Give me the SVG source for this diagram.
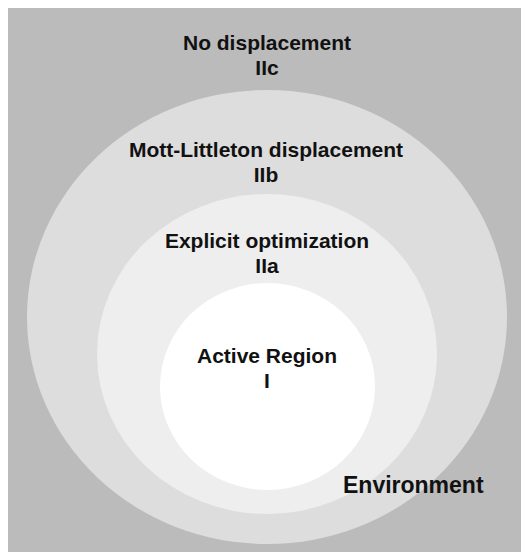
<svg xmlns="http://www.w3.org/2000/svg" width="521" height="552" viewBox="0 0 521 552">
<style>
.t{font-family:"Liberation Sans",Arial,sans-serif;font-weight:bold;font-size:21px;fill:#111;text-anchor:middle}
.env{font-size:23px;text-anchor:start}
</style>
<rect x="0" y="0" width="521" height="552" fill="#ffffff"/>
<g id="environment">
<rect x="8" y="8" width="513" height="544" fill="#bbbbbb"/>
</g>
<g id="region-IIc">
<text class="t" x="267" y="50">No displacement</text>
<text class="t" x="267" y="75">IIc</text>
</g>
<g id="region-IIb">
<ellipse cx="267" cy="317" rx="240" ry="227" fill="#dddddd"/>
<text class="t" x="266" y="157">Mott-Littleton displacement</text>
<text class="t" x="266" y="182">IIb</text>
</g>
<g id="region-IIa">
<ellipse cx="267" cy="354" rx="170" ry="160" fill="#eeeeee"/>
<text class="t" x="267" y="248">Explicit optimization</text>
<text class="t" x="267" y="273">IIa</text>
</g>
<g id="region-I">
<ellipse cx="267.5" cy="386.5" rx="107.5" ry="103.5" fill="#ffffff"/>
<text class="t" x="267" y="363">Active Region</text>
<text class="t" x="267" y="388">I</text>
</g>
<g id="environment-label">
<text class="t env" x="343" y="493">Environment</text>
</g>
<g id="connectors"/>
</svg>
